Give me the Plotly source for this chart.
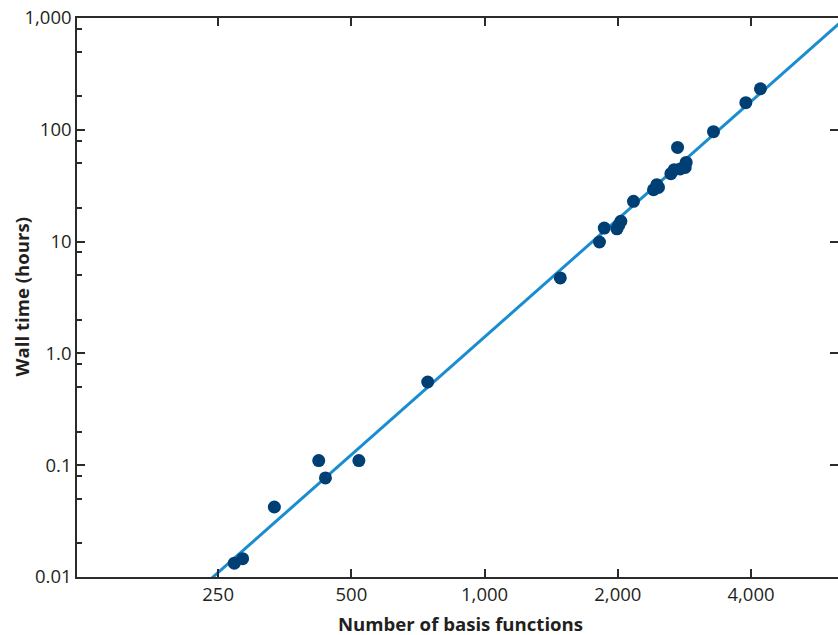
import numpy as np
import plotly.graph_objects as go

# Data: number of basis functions vs wall time (hours)
basis_functions = [272, 284, 335, 422, 437, 520, 744, 1483, 1818, 1864, 1991, 2010, 2032,
                   2170, 2408, 2450, 2471, 2636, 2682, 2767, 2729, 2840, 2854, 3290, 3893, 4200]
wall_time_hours = [0.0133, 0.0146, 0.0423, 0.110, 0.0769, 0.110, 0.555, 4.73, 9.92, 13.2, 13.0, 14.0, 15.2,
                   22.9, 29.1, 32.3, 30.5, 40.5, 44.0, 44.6, 69.6, 46.0, 51.1, 96.2, 175, 233]

# Power-law fit: t = FIT_COEFF * N ** FIT_EXPONENT
FIT_EXPONENT = 3.5
FIT_LOG10_COEFF = -10.353
fit_x = np.logspace(np.log10(200), np.log10(7000), 50)
fit_y = 10 ** FIT_LOG10_COEFF * fit_x ** FIT_EXPONENT

x_tickvals = [250, 500, 1000, 2000, 4000]
x_ticktext = ["250", "500", "1,000", "2,000", "4,000"]
y_tickvals = [0.01, 0.1, 1, 10, 100, 1000]
y_ticktext = ["0.01", "0.1", "1.0", "10", "100", "1,000"]
y_minor = [m * 10.0 ** e for e in range(-2, 3) for m in (2, 5, 8)]

XR = [np.log10(120), np.log10(6288)]
YR = [-2, 3]
AX = "#2b2b2b"
FONT = "Open Sans"
W, H = 838, 635
ML, MR, MT, MB = 77, 0, 18, 58
PW, PH = W - ML - MR, H - MT - MB

fig = go.Figure()
fig.add_trace(go.Scatter(x=fit_x, y=fit_y, mode="lines",
                         line=dict(color="#1a8dd0", width=3), hoverinfo="skip"))
fig.add_trace(go.Scatter(x=basis_functions, y=wall_time_hours, mode="markers",
                         marker=dict(color="#003f74", size=13), cliponaxis=False))
# invisible traces so that the mirrored / minor-tick axes are drawn
fig.add_trace(go.Scatter(x=[1000], y=[1], xaxis="x2", yaxis="y2", mode="markers",
                         marker=dict(opacity=0), hoverinfo="skip"))
fig.add_trace(go.Scatter(x=[1000], y=[1], xaxis="x", yaxis="y3", mode="markers",
                         marker=dict(opacity=0), hoverinfo="skip"))

tick_common = dict(ticks="inside", tickwidth=1.5, tickcolor=AX, showgrid=False, zeroline=False)

fig.update_layout(
    width=W, height=H,
    margin=dict(l=ML, r=MR, t=MT, b=MB),
    plot_bgcolor="white", paper_bgcolor="white",
    showlegend=False,
    font=dict(family=FONT, color="#231f20", size=19),
    xaxis=dict(type="log", range=XR, tickvals=x_tickvals, ticktext=x_ticktext, ticklen=8,
               showline=True, linecolor=AX, linewidth=1.5,
               tickfont=dict(size=18.5), **tick_common),
    yaxis=dict(type="log", range=YR, tickvals=y_tickvals, ticktext=y_ticktext, ticklen=8,
               showline=True, linecolor=AX, linewidth=1.5,
               tickfont=dict(size=18.5), **tick_common),
    xaxis2=dict(type="log", range=XR, overlaying="x", side="top", anchor="y",
                tickvals=x_tickvals, showticklabels=False, ticklen=8,
                showline=True, linecolor=AX, linewidth=1.5, **tick_common),
    yaxis2=dict(type="log", range=YR, overlaying="y", side="right", anchor="x",
                tickvals=y_tickvals, showticklabels=False, ticklen=8,
                showline=True, linecolor=AX, linewidth=1.5, **tick_common),
    yaxis3=dict(type="log", range=YR, overlaying="y", side="left", anchor="x",
                tickvals=y_minor, showticklabels=False, ticklen=5,
                showline=False, **tick_common),
    annotations=[
        dict(text="<b>Number of basis functions</b>", xref="paper", yref="paper",
             x=(460 - ML) / PW, y=-(623 - (H - MB)) / PH, xanchor="center", yanchor="middle",
             showarrow=False, font=dict(size=18.6)),
        dict(text="<b>Wall time (hours)</b>", xref="paper", yref="paper", textangle=-90,
             x=-(ML - 21) / PW, y=0.5, xanchor="center", yanchor="middle",
             showarrow=False, font=dict(size=18.6)),
    ],
)

fig.write_html("out.html")
